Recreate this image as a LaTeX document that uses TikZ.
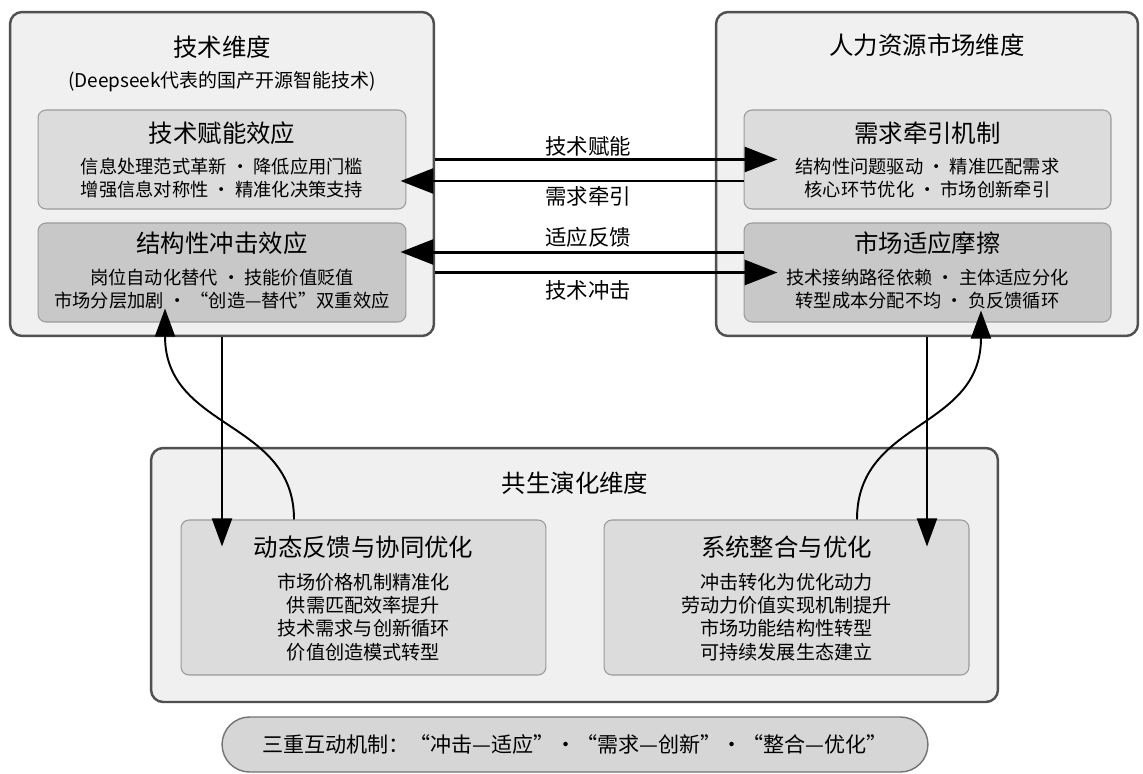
\documentclass[tikz,border=0pt]{standalone}
\usepackage{fontspec}
\usepackage{xcolor}
\usetikzlibrary{arrows.meta,calc}
\setmainfont{Noto Sans CJK SC}
\definecolor{panel}{HTML}{F0F0F0}
\definecolor{rim}{HTML}{505050}
\definecolor{liftcell}{HTML}{DCDCDC}
\definecolor{shockcell}{HTML}{C8C8C8}
\definecolor{cellrim}{HTML}{9A9A9A}
\definecolor{pillfill}{HTML}{D6D6D6}

\begin{document}
\begin{tikzpicture}[x=0.02cm,y=-0.02cm,
		outer/.style={draw=rim,line width=1.4pt,fill=panel,rounded corners=0.24cm,inner sep=0pt},
		cell/.style={draw=cellrim,line width=0.6pt,rounded corners=0.16cm,inner sep=0pt},
		head/.style={font=\fontsize{13.9}{16}\selectfont,inner sep=0pt},
		body/.style={font=\fontsize{10.4}{13.1}\selectfont,align=center,inner sep=0pt},
		low/.style={font=\fontsize{10.9}{13.3}\selectfont,align=center,inner sep=0pt},
		tag/.style={font=\fontsize{12.2}{14}\selectfont,inner sep=0pt},
		bigarrow/.style={line width=1.7pt,-{Triangle[length=0.66cm,width=0.5cm]}},
		linkarrow/.style={line width=1.1pt,-{Triangle[length=0.56cm,width=0.4cm]}}]
		\useasboundingbox [fill=white] (0,0) rectangle (1143,774);
		%
		\node [outer,minimum width=8.48cm,minimum height=6.48cm] (tech) at (222,174) {};
		\node [outer,minimum width=8.44cm,minimum height=6.48cm] (market) at (927,174) {};
		\node [outer,minimum width=16.94cm,minimum height=5.08cm] (symb) at (574.5,575) {};
		%
		\node [cell,fill=liftcell,minimum width=7.36cm,minimum height=1.98cm] (lift) at (222,159.5) {};
		\node [cell,fill=shockcell,minimum width=7.36cm,minimum height=1.98cm] (shock) at (222,272.5) {};
		\node [cell,fill=liftcell,minimum width=7.34cm,minimum height=1.98cm] (demand) at (927.5,159.5) {};
		\node [cell,fill=shockcell,minimum width=7.34cm,minimum height=1.98cm] (friction) at (927.5,272.5) {};
		\node [cell,fill=liftcell,minimum width=7.3cm,minimum height=3.1cm] (loop) at (363.5,597.5) {};
		\node [cell,fill=liftcell,minimum width=7.3cm,minimum height=3.1cm] (integr) at (786.5,597.5) {};
		\node [draw=rim!80,line width=0.8pt,fill=pillfill,rounded corners=0.55cm,minimum width=14.12cm,minimum height=1.1cm,font=\fontsize{12}{14}\selectfont] (triad) at (575,744.5) {三重互动机制：“冲击—适应”·“需求—创新”·“整合—优化”};
		%
		\node [head] (techtitle) at (222,47) {技术维度};
		\node [font=\fontsize{10.8}{13}\selectfont,inner sep=0pt] (techsub) at (222,82) {(Deepseek代表的国产开源智能技术)};
		\node [head] (markettitle) at (927,45) {人力资源市场维度};
		\node [head] (symbtitle) at (575,483) {共生演化维度};
		%
		\node [head] (lifttitle) at (222,133) {技术赋能效应};
		\node [body] (lifttext) at (222,178.5) {信息处理范式革新 · 降低应用门槛\\增强信息对称性 · 精准化决策支持};
		\node [head] (shocktitle) at (222,243) {结构性冲击效应};
		\node [body] (shocktext) at (222,289) {岗位自动化替代 · 技能价值贬值\\市场分层加剧 · “创造—替代”双重效应};
		\node [head] (demandtitle) at (927.5,133) {需求牵引机制};
		\node [body] (demandtext) at (927.5,178.5) {结构性问题驱动 · 精准匹配需求\\核心环节优化 · 市场创新牵引};
		\node [head] (frictiontitle) at (927.5,243) {市场适应摩擦};
		\node [body] (frictiontext) at (927.5,289) {技术接纳路径依赖 · 主体适应分化\\转型成本分配不均 · 负反馈循环};
		\node [head] (looptitle) at (363.5,547) {动态反馈与协同优化};
		\node [low] (looptext) at (363.5,617) {市场价格机制精准化\\供需匹配效率提升\\技术需求与创新循环\\价值创造模式转型};
		\node [head] (integrtitle) at (786.5,547) {系统整合与优化};
		\node [low] (integrtext) at (786.5,617) {冲击转化为优化动力\\劳动力价值实现机制提升\\市场功能结构性转型\\可持续发展生态建立};
		%
		\draw [bigarrow] (tech.east |- demand.west) -- ([xshift=0.68cm]demand.west);
		\draw [bigarrow] ([yshift=-0.43cm]demand.west) -- ([yshift=-0.43cm,xshift=-0.12cm]lift.east);
		\draw [bigarrow] ([yshift=0.41cm]friction.west) -- ([yshift=0.41cm,xshift=-0.12cm]shock.east);
		\draw [bigarrow] (tech.east |- friction.west) -- ([xshift=0.68cm]friction.west);
		\node [tag] (lifttag) at (588,146) {技术赋能};
		\node [tag] (demandtag) at (588,196) {需求牵引};
		\node [tag] (adapttag) at (588,237) {适应反馈};
		\node [tag] (shocktag) at (588,290) {技术冲击};
		%
		\draw [linkarrow] (tech.south) -- ($(tech.south |- loop.north)+(0,27)$);
		\draw [linkarrow] ([xshift=-1.39cm]loop.north) .. controls +(0,-100) and +(0,122) .. ([xshift=-1.14cm,yshift=0.28cm]shock.south);
		\draw [linkarrow] (market.south) -- ($(market.south |- integr.north)+(0,27)$);
		\draw [linkarrow] ([xshift=1.41cm]integr.north) .. controls +(0,-100) and +(0,120) .. ([xshift=1.07cm,yshift=0.24cm]friction.south);
	\end{tikzpicture}
\end{document}
